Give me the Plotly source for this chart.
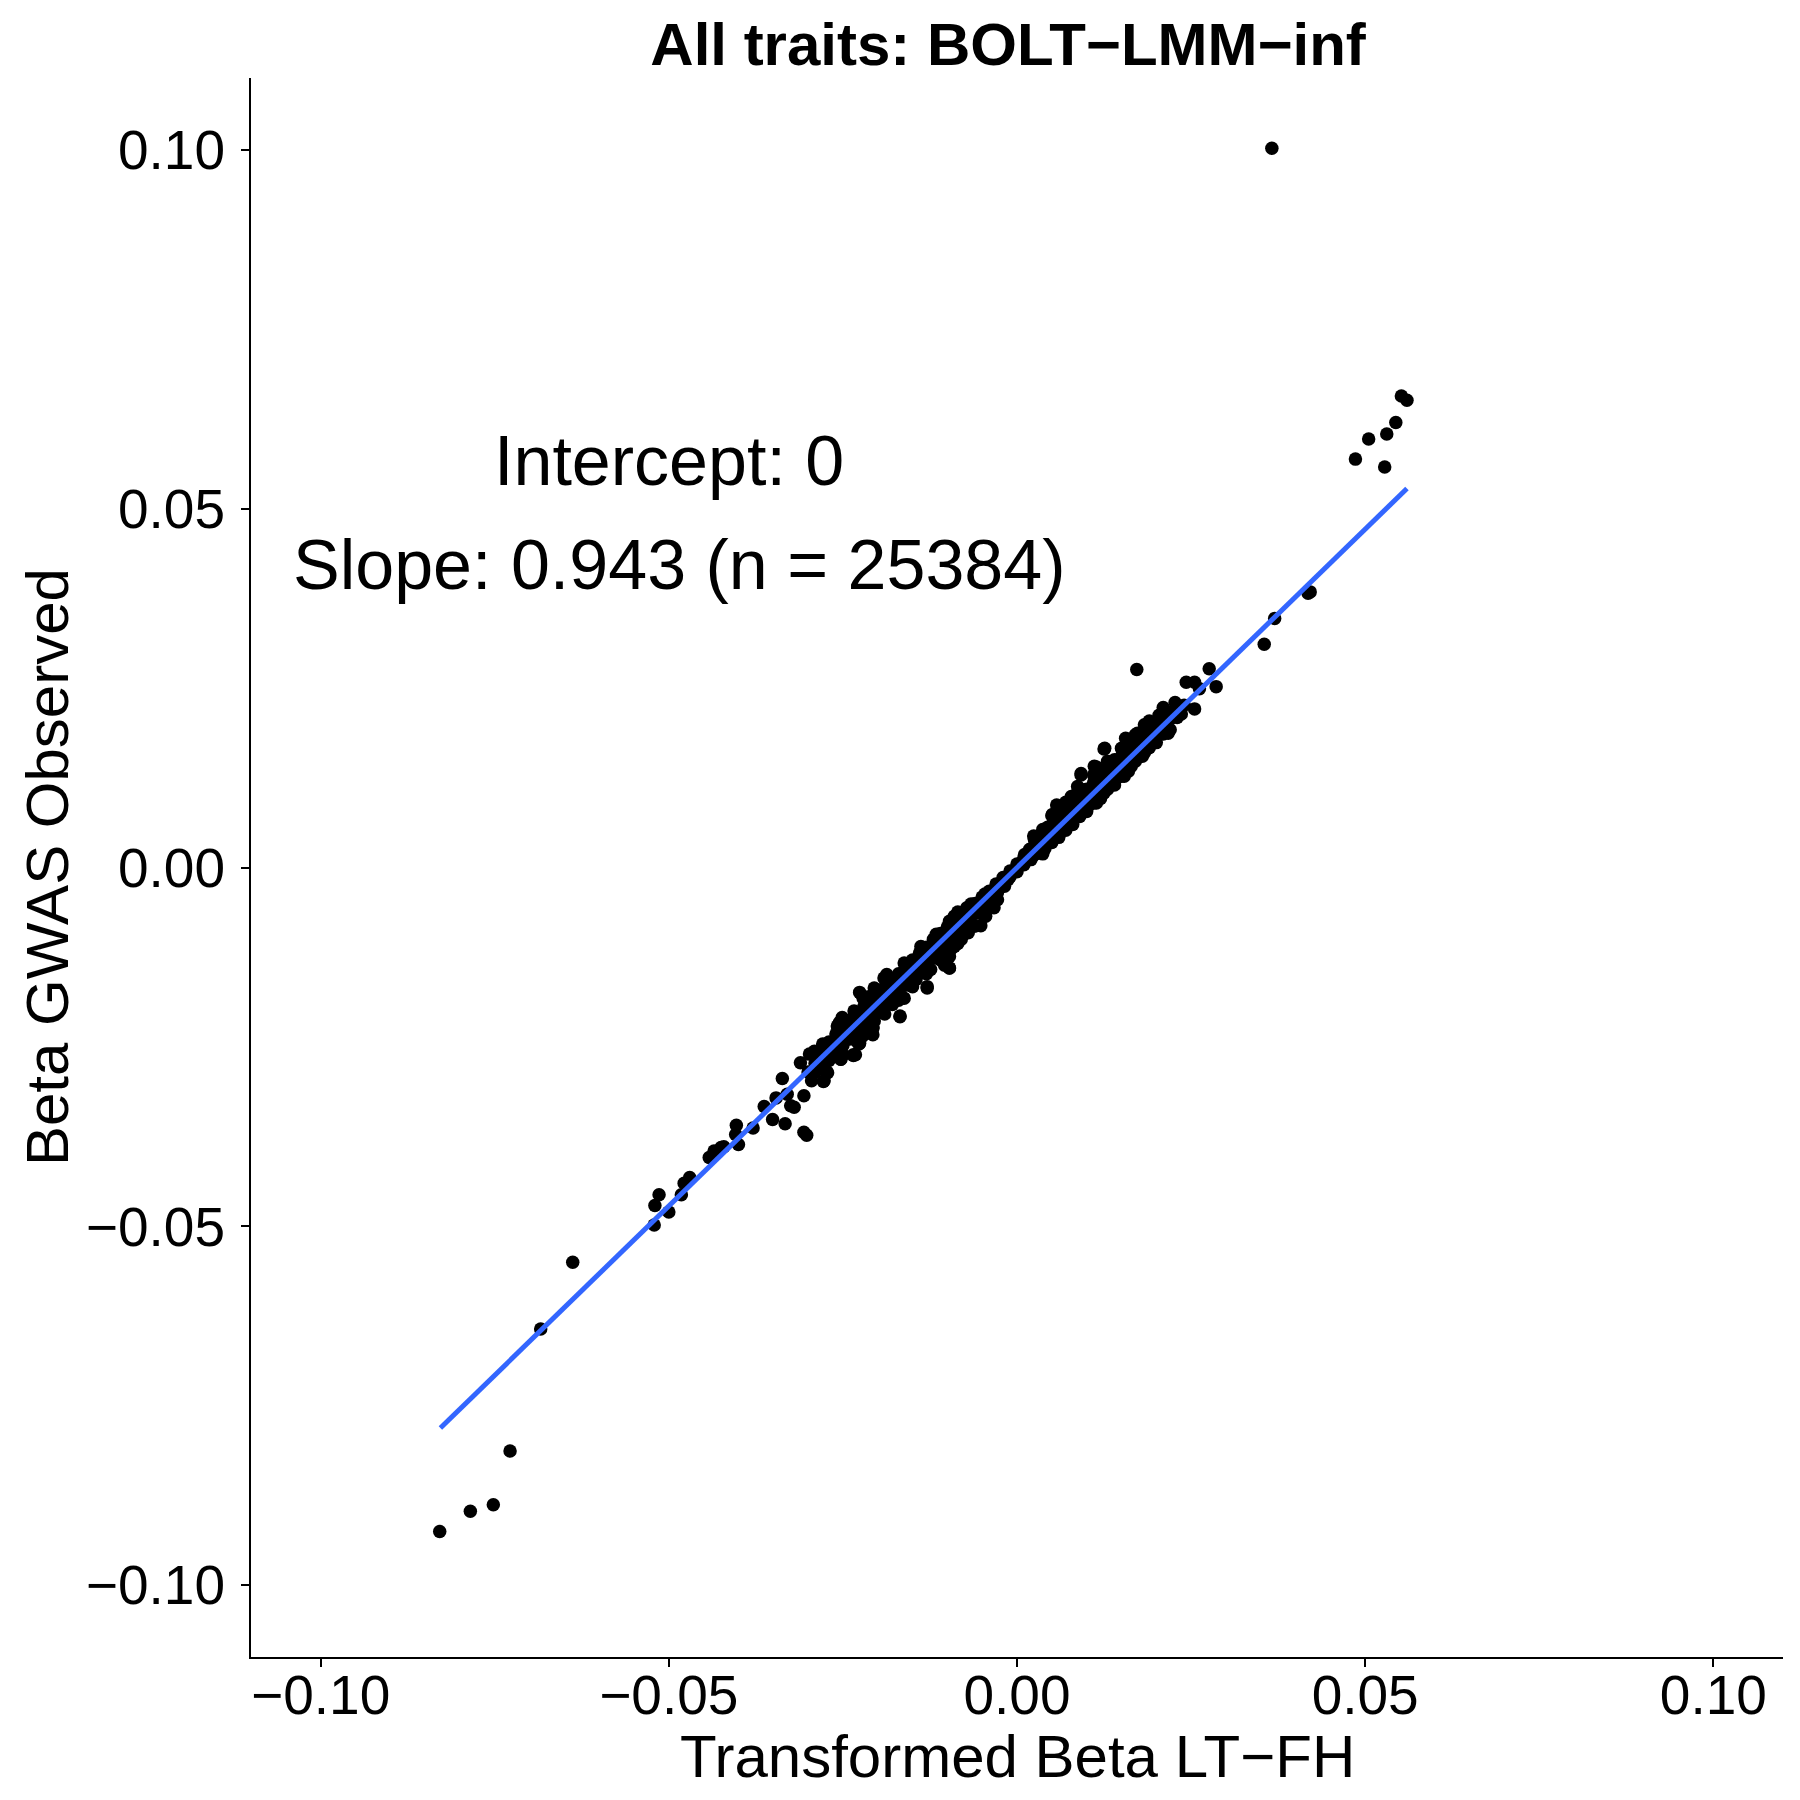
import plotly.graph_objects as go

# points (x = transformed beta LT-FH, y = beta GWAS observed)
beta_ltfh = [
    # outliers
    0.0366, 0.0552, 0.0560, 0.0544, 0.0531, 0.0505, 0.0486, 0.0528, 0.0418, 0.0421,
    0.0370, 0.0355, 0.0172,
    -0.0638, -0.0684, -0.0728, -0.0752, -0.0785, -0.0829,
    # lower-left tail
    -0.0521, -0.0520, -0.0514, -0.0500, -0.0482, -0.0478, -0.0470, -0.0442, -0.0435, -0.0425,
    -0.0421, -0.0400, -0.0404, -0.0403, -0.0379, -0.0363, -0.0351, -0.0346, -0.0333, -0.0325,
    -0.0320, -0.0330, -0.0337, -0.0306, -0.0306, -0.0302, -0.0311, -0.0295, -0.0278, -0.0272,
    -0.0298, -0.0291, -0.0282, -0.0253, -0.0235, -0.0270,
    # lower part of the band
    -0.0277, -0.0273, -0.0279, -0.0253, -0.0235, -0.0260, -0.0227, -0.0222, -0.0207, -0.0205,
    -0.0168, -0.0255, -0.0251, -0.0234, -0.0221, -0.0205, -0.0191, -0.0193, -0.0179, -0.0162,
    -0.0162, -0.0145, -0.0129, -0.0138, -0.0124, -0.0116, -0.0097, -0.0104, -0.0095, -0.0090,
    -0.0080, -0.0061, -0.0066, -0.0045, -0.0042, -0.0028, -0.0018, -0.0013,
    # upper part of the band
    -0.0047, -0.0042, -0.0028, -0.0016, 0.0001, 0.0011, 0.0023, 0.0025, 0.0037, 0.0044,
    0.0051, 0.0063, 0.0068, 0.0078, 0.0087, 0.0092, 0.0087, 0.0102, 0.0114, 0.0111,
    0.0118, 0.0125, 0.0125, 0.0140, 0.0140, 0.0154, 0.0161, 0.0164, 0.0173, 0.0183,
    0.0183, 0.0197, 0.0217, 0.0207,
    0.0185, 0.0204, 0.0227, 0.0243, 0.0255, 0.0262, 0.0286, 0.0276, 0.0255, 0.0236,
    0.0217, 0.0191, 0.0172, 0.0156, 0.0126, 0.0092, 0.0114, 0.0140, 0.0159,
    # middle of the band
    0.0005, 0.0018, 0.0024, 0.0044, 0.0057, 0.0069, 0.0082, 0.0057, 0.0082, 0.0037,
    -0.0020, -0.0033, -0.0046, -0.0033, -0.0059, -0.0072, -0.0085, -0.0052, -0.0078, -0.0097,
    -0.0110, -0.0085, -0.0097, -0.0123, -0.0136, -0.0104, -0.0097, -0.0149, -0.0155, -0.0129,
    -0.0168, -0.0174, -0.0187, -0.0213, -0.0226, -0.0187, -0.0200, -0.0251, -0.0258, -0.0239,
    -0.0207, -0.0207, -0.0226, -0.0232,
    # band core (even)
    -0.0300, -0.0280, -0.0260, -0.0240, -0.0220, -0.0200, -0.0180, -0.0160, -0.0140, -0.0120,
    -0.0100, -0.0080, -0.0060, -0.0040, -0.0020, 0.0000, 0.0020, 0.0040, 0.0060, 0.0080,
    0.0100, 0.0120, 0.0140, 0.0160, 0.0180, 0.0200, 0.0220, 0.0240,
    # band core (odd)
    -0.029, -0.027, -0.025, -0.023, -0.021, -0.019, -0.017, -0.015, -0.013, -0.011,
    -0.009, -0.007, -0.005, -0.003, -0.001, 0.001, 0.003, 0.005, 0.007, 0.009,
    0.011, 0.013, 0.015, 0.017, 0.019, 0.021, 0.023,
    # band upper edge (odd)
    -0.029, -0.027, -0.025, -0.023, -0.021, -0.019, -0.017, -0.015, -0.013, -0.011,
    -0.009, -0.007, -0.005, -0.003, -0.001, 0.001, 0.003, 0.005, 0.007, 0.009,
    0.011, 0.013, 0.015, 0.017, 0.019, 0.021, 0.023,
    # band lower edge (odd)
    -0.029, -0.027, -0.025, -0.023, -0.021, -0.019, -0.017, -0.015, -0.013, -0.011,
    -0.009, -0.007, -0.005, -0.003, -0.001, 0.001, 0.003, 0.005, 0.007, 0.009,
    0.011, 0.013, 0.015, 0.017, 0.019, 0.021, 0.023,
    # band upper edge (even)
    -0.028, -0.026, -0.024, -0.022, -0.020, -0.018, -0.016, -0.014, -0.012, -0.010,
    -0.008, -0.006, -0.004, -0.002, 0.000, 0.002, 0.004, 0.006, 0.008, 0.010,
    0.012, 0.014, 0.016, 0.018, 0.020, 0.022,
    # band lower edge (even)
    -0.028, -0.026, -0.024, -0.022, -0.020, -0.018, -0.016, -0.014, -0.012, -0.010,
    -0.008, -0.006, -0.004, -0.002, 0.000, 0.002, 0.004, 0.006, 0.008, 0.010,
    0.012, 0.014, 0.016, 0.018, 0.020, 0.022,
    # wide part below the line (negative side)
    -0.025, -0.023, -0.021, -0.019, -0.017, -0.015, -0.013, -0.011, -0.009, -0.007,
    # wide part above the line (positive side)
    0.005, 0.007, 0.009, 0.011, 0.013, 0.015, 0.017, 0.019, 0.021,
]
beta_gwas = [
    0.1002, 0.0657, 0.0651, 0.0620, 0.0604, 0.0597, 0.0569, 0.0558, 0.0382, 0.0384,
    0.0347, 0.0311, 0.0276,
    -0.0550, -0.0643, -0.0813, -0.0888, -0.0897, -0.0925,
    -0.0498, -0.0471, -0.0456, -0.0480, -0.0456, -0.0440, -0.0432, -0.0404, -0.0395, -0.0390,
    -0.0389, -0.0386, -0.0372, -0.0359, -0.0363, -0.0333, -0.0351, -0.0321, -0.0357, -0.0332,
    -0.0334, -0.0316, -0.0294, -0.0318, -0.0369, -0.0373, -0.0272, -0.0297, -0.0298, -0.0286,
    -0.0260, -0.0256, -0.0263, -0.0267, -0.0261, -0.0269,
    -0.0297, -0.0285, -0.0246, -0.0267, -0.0262, -0.0249, -0.0246, -0.0235, -0.0223, -0.0214,
    -0.0207, -0.0216, -0.0209, -0.0200, -0.0182, -0.0168, -0.0154, -0.0195, -0.0191, -0.0182,
    -0.0133, -0.0156, -0.0166, -0.0110, -0.0142, -0.0093, -0.0140, -0.0128, -0.0114, -0.0068,
    -0.0100, -0.0082, -0.0051, -0.0068, -0.0038, -0.0045, -0.0026, -0.0017,
    -0.0068, -0.0054, -0.0035, -0.0017, 0.0002, 0.0018, 0.0016, 0.0039, 0.0053, 0.0039,
    0.0074, 0.0085, 0.0062, 0.0099, 0.0113, 0.0129, 0.0071, 0.0085, 0.0090, 0.0141,
    0.0136, 0.0165, 0.0104, 0.0150, 0.0118, 0.0127, 0.0171, 0.0141, 0.0187, 0.0199,
    0.0160, 0.0178, 0.0187, 0.0201,
    0.0199, 0.0212, 0.0230, 0.0258, 0.0258, 0.0249, 0.0252, 0.0277, 0.0221, 0.0214,
    0.0190, 0.0180, 0.0162, 0.0180, 0.0166, 0.0131, 0.0140, 0.0131, 0.0149,
    0.0006, 0.0025, 0.0044, 0.0056, 0.0062, 0.0081, 0.0100, 0.0087, 0.0068, 0.0019,
    -0.0019, -0.0031, -0.0037, -0.0056, -0.0062, -0.0056, -0.0062, -0.0081, -0.0081, -0.0075,
    -0.0099, -0.0106, -0.0124, -0.0112, -0.0124, -0.0136, -0.0140, -0.0136, -0.0149, -0.0168,
    -0.0208, -0.0161, -0.0149, -0.0180, -0.0174, -0.0180, -0.0196, -0.0211, -0.0221, -0.0224,
    -0.0224, -0.0233, -0.0245, -0.0261,
    -0.0285, -0.0262, -0.0245, -0.0226, -0.0205, -0.0189, -0.0170, -0.0150, -0.0132, -0.0113,
    -0.0094, -0.0076, -0.0056, -0.0038, -0.0019, 0.0000, 0.0019, 0.0038, 0.0056, 0.0075,
    0.0094, 0.0113, 0.0132, 0.0151, 0.0170, 0.0188, 0.0207, 0.0226,
    -0.0273, -0.0255, -0.0236, -0.0217, -0.0198, -0.0179, -0.0160, -0.0141, -0.0123, -0.0104,
    -0.0085, -0.0066, -0.0047, -0.0028, -0.0009, 0.0009, 0.0028, 0.0047, 0.0066, 0.0085,
    0.0104, 0.0123, 0.0141, 0.0160, 0.0179, 0.0198, 0.0217,
    -0.0261, -0.0243, -0.0224, -0.0205, -0.0186, -0.0167, -0.0148, -0.0129, -0.0111, -0.0092,
    -0.0075, -0.0058, -0.0041, -0.0023, -0.0005, 0.0014, 0.0036, 0.0059, 0.0080, 0.0099,
    0.0118, 0.0137, 0.0155, 0.0172, 0.0191, 0.0208, 0.0225,
    -0.0285, -0.0267, -0.0248, -0.0229, -0.0210, -0.0191, -0.0172, -0.0153, -0.0135, -0.0116,
    -0.0095, -0.0074, -0.0053, -0.0033, -0.0013, 0.0004, 0.0020, 0.0035, 0.0052, 0.0071,
    0.0090, 0.0109, 0.0127, 0.0148, 0.0167, 0.0186, 0.0209,
    -0.0251, -0.0232, -0.0213, -0.0194, -0.0176, -0.0157, -0.0138, -0.0119, -0.0100, -0.0083,
    -0.0066, -0.0050, -0.0033, -0.0014, 0.0005, 0.0026, 0.0049, 0.0071, 0.0090, 0.0109,
    0.0128, 0.0147, 0.0164, 0.0182, 0.0199, 0.0216,
    -0.0277, -0.0258, -0.0239, -0.0220, -0.0202, -0.0183, -0.0164, -0.0145, -0.0126, -0.0105,
    -0.0084, -0.0064, -0.0045, -0.0025, -0.0006, 0.0011, 0.0026, 0.0042, 0.0060, 0.0078,
    0.0096, 0.0115, 0.0134, 0.0155, 0.0174, 0.0192,
    -0.0261, -0.0242, -0.0223, -0.0204, -0.0185, -0.0166, -0.0148, -0.0129, -0.0110, -0.0091,
    0.0072, 0.0091, 0.0110, 0.0129, 0.0148, 0.0166, 0.0185, 0.0204, 0.0223,
]

# fitted line ends
fit_x = [-0.0828, 0.0560]
fit_y = [-0.0781, 0.0528]

label_intercept = "Intercept: 0"
label_slope = "Slope: 0.943 (n = 25384)"

FONT = "Liberation Sans, Arial, Helvetica, sans-serif"

fig = go.Figure()
fig.add_trace(go.Scatter(x=beta_ltfh, y=beta_gwas, mode="markers",
                         marker=dict(color="black", size=13.5), showlegend=False))
fig.add_trace(go.Scatter(x=fit_x, y=fit_y, mode="lines",
                         line=dict(color="#3366FF", width=5), showlegend=False))

axis_style = dict(
    range=[-0.11, 0.11], tick0=0, dtick=0.05, tickformat=".2f",
    showgrid=False, zeroline=False, showline=True, linecolor="black", linewidth=2,
    ticks="outside", ticklen=8, tickwidth=2, tickcolor="black",
    tickfont=dict(size=55, color="black", family=FONT),
)
fig.update_xaxes(**axis_style, ticklabelstandoff=-19)
fig.update_yaxes(**axis_style, ticklabelstandoff=5)

fig.add_annotation(x=-0.050, y=0.0566, text=label_intercept, showarrow=False,
                   xanchor="center", yanchor="middle", font=dict(size=70, color="black", family=FONT))
fig.add_annotation(x=-0.0485, y=0.0422, text=label_slope, showarrow=False,
                   xanchor="center", yanchor="middle", font=dict(size=70, color="black", family=FONT))

# axis titles
fig.add_annotation(x=0.5, y=-0.0633, xref="paper", yref="paper", text="Transformed Beta LT\u2212FH",
                   showarrow=False, xanchor="center", yanchor="middle",
                   font=dict(size=60, color="black", family=FONT))
fig.add_annotation(x=-0.1328, y=0.5, xref="paper", yref="paper", text="Beta GWAS Observed",
                   showarrow=False, xanchor="center", yanchor="middle", textangle=-90,
                   font=dict(size=60, color="black", family=FONT))

# page body adds 8px offset, margins compensate
fig.update_layout(
    width=1800, height=1800,
    margin=dict(l=243, r=25, t=70, b=151),
    plot_bgcolor="white", paper_bgcolor="white",
    title=dict(text="<b>All traits: BOLT\u2212LMM\u2212inf</b>", x=0.5556, xanchor="center",
               y=0.980, yanchor="middle", font=dict(size=60, color="black", family=FONT)),
)

fig.write_html("out.html")
